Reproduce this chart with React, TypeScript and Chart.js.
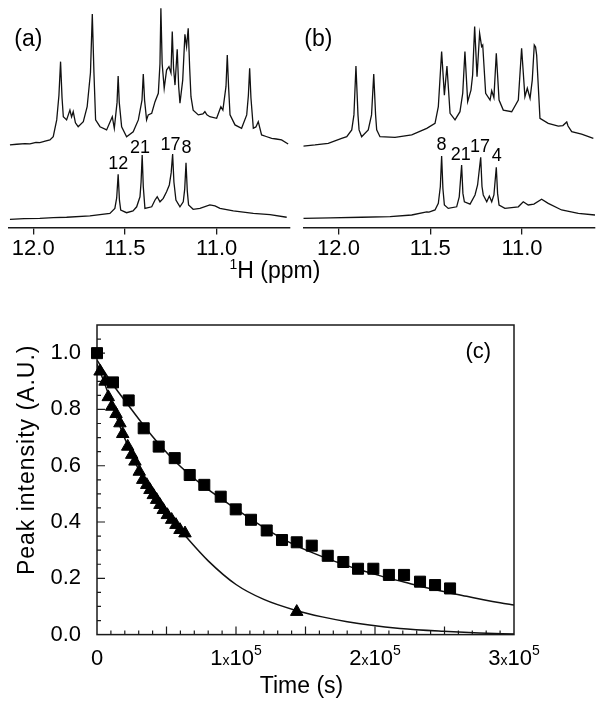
import React, { useEffect, useRef } from 'react';
import { Chart, registerables } from 'chart.js';

Chart.register(...registerables);

const FONT = '"Liberation Sans", Arial, Helvetica, sans-serif';
const INK = '#111';

// ---------------- Panels (a) and (b): 1H NMR spectra ----------------
// [chemical shift (ppm), intensity (a.u., 0-100 frame scale)]
const ppmTicks = [12.0, 11.5, 11.0];

const spectrumAUpper: [number, number][] = [
  [12.127, 36.3], [12.09, 36.6], [12.045, 36.9], [12.018, 36.8], [11.985, 37.4], [11.964, 37.3],
  [11.935, 38.0], [11.909, 38.5], [11.891, 39.9], [11.872, 47.3], [11.86, 58], [11.851, 72.9],
  [11.843, 57], [11.836, 48.7], [11.818, 47.3], [11.8, 51.6], [11.791, 48.6], [11.782, 50.9],
  [11.77, 46], [11.755, 44.3], [11.727, 46.5], [11.706, 53.1], [11.688, 68], [11.678, 93.8],
  [11.669, 68], [11.66, 47.3], [11.636, 44.3], [11.6, 42.9], [11.569, 48.7], [11.558, 43.6],
  [11.543, 55], [11.537, 66.6], [11.531, 55], [11.518, 44.3], [11.491, 39.9], [11.455, 42.1],
  [11.427, 47.3], [11.407, 56], [11.4, 67.5], [11.393, 56], [11.382, 47.3], [11.373, 49.5],
  [11.354, 50.2], [11.336, 55.3], [11.318, 59.0], [11.309, 72], [11.304, 96.4], [11.297, 72],
  [11.286, 61.2], [11.273, 69.2], [11.26, 70.7], [11.249, 67.9], [11.242, 86.1], [11.235, 70],
  [11.227, 62.6], [11.215, 78.3], [11.207, 62], [11.2, 54.6], [11.185, 64.8], [11.173, 84.9],
  [11.164, 79.5], [11.155, 87.6], [11.147, 70], [11.14, 57.5], [11.128, 51.6], [11.1, 49.5],
  [11.075, 49.9], [11.064, 50.9], [11.053, 49.5], [11.037, 48.7], [11.0, 48.0], [10.977, 53.1],
  [10.966, 51.6], [10.949, 62], [10.942, 75.8], [10.935, 62], [10.927, 49.5], [10.9, 45.1],
  [10.864, 43.6], [10.836, 49.5], [10.827, 58], [10.82, 70.0], [10.813, 57], [10.8, 43.6],
  [10.786, 44.2], [10.773, 46.5], [10.755, 40.7], [10.73, 40], [10.7, 39.2], [10.675, 38.9],
  [10.646, 38.5], [10.61, 36.7],
];

const spectrumALower: [number, number][] = [
  [12.127, 3.6], [12.05, 3.9], [11.964, 4.0], [11.89, 4.3], [11.818, 4.5], [11.691, 5.1],
  [11.582, 6.2], [11.555, 8.4], [11.545, 13], [11.537, 23.4], [11.53, 12], [11.523, 7.7],
  [11.491, 6.5], [11.456, 7.3], [11.436, 9.1], [11.418, 13.5], [11.412, 20], [11.406, 31.9],
  [11.4, 18], [11.391, 8.4], [11.354, 9.1], [11.336, 12.1], [11.324, 13.5], [11.309, 11.3],
  [11.291, 12.8], [11.273, 15.7], [11.258, 18.7], [11.248, 24], [11.24, 32.3], [11.233, 20],
  [11.222, 12.1], [11.2, 9.1], [11.182, 11.3], [11.174, 17], [11.167, 28.5], [11.16, 16],
  [11.153, 9.9], [11.128, 8.0], [11.091, 8.4], [11.037, 9.9], [11.009, 9.5], [10.982, 8.4],
  [10.909, 7.3], [10.8, 6.2], [10.709, 5.7], [10.618, 4.5],
];

const spectrumBUpper: [number, number][] = [
  [12.192, 35.8], [12.128, 36.3], [12.056, 37.0], [11.983, 39.2], [11.955, 39.9], [11.928, 42.9],
  [11.916, 49.5], [11.905, 71.0], [11.894, 49.5], [11.888, 42.9], [11.874, 39.9], [11.838, 42.9],
  [11.82, 49.5], [11.808, 67.5], [11.798, 49.5], [11.792, 42.9], [11.774, 39.9], [11.692, 39.6],
  [11.601, 40.7], [11.519, 43.6], [11.474, 45.8], [11.456, 53.1], [11.438, 77.3], [11.423, 58.2],
  [11.409, 71.0], [11.392, 50.2], [11.365, 47.3], [11.338, 50.9], [11.323, 59.0], [11.311, 77.3],
  [11.296, 55.3], [11.278, 60.4], [11.269, 67.0], [11.258, 88.3], [11.245, 66.3], [11.231, 85.4],
  [11.22, 79.5], [11.214, 80.2], [11.198, 59.0], [11.174, 56.0], [11.165, 60.1], [11.153, 57.1],
  [11.14, 76.6], [11.125, 56.0], [11.102, 51.6], [11.056, 50.9], [11.02, 56.0], [11.002, 78.8],
  [10.984, 57.5], [10.971, 61.2], [10.956, 56.8], [10.944, 64.8], [10.933, 80.2], [10.926, 79.3],
  [10.92, 75.8], [10.902, 48.0], [10.857, 45.8], [10.802, 44.6], [10.777, 44.8], [10.756, 46.4],
  [10.749, 44.6], [10.729, 42.1], [10.675, 41.0], [10.611, 39.2],
];

const spectrumBLower: [number, number][] = [
  [12.192, 4.0], [12.046, 4.2], [11.874, 4.5], [11.719, 4.8], [11.601, 5.5], [11.519, 6.9],
  [11.507, 6.8], [11.474, 7.7], [11.456, 10.6], [11.445, 18], [11.438, 31.4], [11.431, 17],
  [11.423, 9.9], [11.402, 8.4], [11.356, 9.1], [11.342, 13.5], [11.329, 27.5], [11.322, 15],
  [11.314, 11.3], [11.283, 10.3], [11.256, 14.3], [11.242, 18.7], [11.225, 30.9], [11.218, 18],
  [11.211, 14.3], [11.192, 11.3], [11.178, 13.8], [11.165, 11.3], [11.153, 14.3], [11.14, 26.5],
  [11.133, 15], [11.125, 9.9], [11.093, 8.4], [11.02, 9.1], [10.993, 11.3], [10.966, 9.9],
  [10.935, 10.3], [10.893, 12.4], [10.857, 10.6], [10.784, 7.7], [10.693, 6.2], [10.602, 5.5],
];

const peakLabelsA = ['12', '21', '17', '8'];
const peakLabelPpmA = [11.537, 11.418, 11.251, 11.164];
const peakLabelIntA = [27.8, 34.8, 36.3, 34.8];

const peakLabelsB = ['8', '21', '17', '4'];
const peakLabelPpmB = [11.438, 11.334, 11.229, 11.138];
const peakLabelIntB = [36.3, 31.9, 35.5, 31.4];

// ---------------- Panel (c): peak intensity decay ----------------
const timeSquares = [0, 11500, 22800, 33600, 44400, 55900, 66700, 77200, 89000, 99800, 110800, 122100,
  133100, 143700, 154500, 166000, 177200, 187800, 198800, 210000, 220900, 232400, 243200, 254000];
const intensitySquares = [1.0, 0.896, 0.832, 0.733, 0.668, 0.627, 0.567, 0.532, 0.49, 0.445, 0.408, 0.37,
  0.336, 0.328, 0.316, 0.28, 0.258, 0.234, 0.234, 0.212, 0.212, 0.188, 0.176, 0.164];

const timeTriangles = [2200, 5800, 8100, 10600, 13700, 16500, 18500, 22100, 25000, 27300, 30400, 32900,
  35800, 38100, 40500, 42900, 45300, 47700, 50600, 53700, 56800, 59700, 63300, 143700];
const intensityTriangles = [0.935, 0.899, 0.844, 0.81, 0.784, 0.751, 0.713, 0.668, 0.639, 0.615, 0.579, 0.55,
  0.532, 0.514, 0.496, 0.479, 0.461, 0.443, 0.425, 0.408, 0.39, 0.372, 0.36, 0.081];

const fitSquaresTime = [0, 11700, 23000, 33300, 44100, 56300, 66900, 77200, 89000, 99800, 110800, 122100,
  133100, 143700, 154000, 165700, 177200, 187800, 198800, 210000, 220900, 232400, 243200, 254000, 266000,
  278000, 290000, 300000];
const fitSquaresIntensity = [0.975, 0.887, 0.812, 0.745, 0.68, 0.615, 0.567, 0.526, 0.484, 0.447, 0.41, 0.374,
  0.342, 0.315, 0.293, 0.27, 0.25, 0.232, 0.216, 0.2, 0.187, 0.172, 0.16, 0.148, 0.136, 0.124, 0.113, 0.105];

const fitTrianglesTime = [0, 6000, 12000, 18500, 25000, 33000, 40500, 50600, 63300, 80000, 100000, 120000,
  143700, 162000, 180000, 196000, 218000, 249000, 275000, 300000];
const fitTrianglesIntensity = [0.962, 0.885, 0.8, 0.715, 0.64, 0.555, 0.496, 0.425, 0.352, 0.262, 0.178, 0.125,
  0.085, 0.063, 0.046, 0.034, 0.022, 0.012, 0.006, 0.002];

const timeTicks = [0, 100000, 200000, 300000];
const timeTickMantissa = ['0', '1', '2', '3'];
const timeTickExponent = [0, 5, 5, 5];
const intensityTicks = [0, 0.2, 0.4, 0.6, 0.8, 1.0];
const TIME_MINOR_STEP = 10000;
const INTENSITY_MINOR_STEP = 0.05;

// ---------------- Spectrum panel ----------------
type SpecProps = {
  upper: [number, number][];
  lower: [number, number][];
  peakLabels: string[];
  peakPpm: number[];
  peakInt: number[];
  panelLabel: string;
  panelPpm: number;
  panelInt: number;
  ppmMin: number;
  ppmMax: number;
  left: number;
  width: number;
  padLeft: number;
  padRight: number;
};

const SPEC_H = 262;
const SPEC_AREA_BOTTOM = 227.5;

function SpectrumPanel(p: SpecProps) {
  const ref = useRef<HTMLCanvasElement>(null);
  useEffect(() => {
    const labelPlugin = {
      id: 'spectrumLabels',
      afterDatasetsDraw(chart: any) {
        const { ctx } = chart;
        const x = chart.scales.x;
        const y = chart.scales.y;
        ctx.save();
        ctx.fillStyle = '#000';
        ctx.textAlign = 'center';
        ctx.textBaseline = 'middle';
        ctx.font = `18px ${FONT}`;
        p.peakLabels.forEach((t, i) => {
          ctx.fillText(t, x.getPixelForValue(p.peakPpm[i]), y.getPixelForValue(p.peakInt[i]));
        });
        ctx.font = `23px ${FONT}`;
        ctx.fillText(p.panelLabel, x.getPixelForValue(p.panelPpm), y.getPixelForValue(p.panelInt));
        ctx.restore();
      },
    };
    const toXY = (arr: [number, number][]) => arr.map(([x, y]) => ({ x, y }));
    const chart = new Chart(ref.current as HTMLCanvasElement, {
      type: 'line',
      data: {
        datasets: [
          { data: toXY(p.upper), borderColor: INK, borderWidth: 1.3, pointRadius: 0, tension: 0, fill: false },
          { data: toXY(p.lower), borderColor: INK, borderWidth: 1.3, pointRadius: 0, tension: 0, fill: false },
        ],
      },
      options: {
        animation: false,
        responsive: false,
        events: [],
        layout: { padding: { left: p.padLeft, right: p.padRight, top: 0, bottom: 0 } },
        plugins: { legend: { display: false }, tooltip: { enabled: false } },
        scales: {
          x: {
            type: 'linear',
            reverse: true,
            min: p.ppmMin,
            max: p.ppmMax,
            afterBuildTicks: (s: any) => {
              s.ticks = ppmTicks.map((v) => ({ value: v }));
            },
            afterFit: (s: any) => {
              s.height = SPEC_H - SPEC_AREA_BOTTOM;
              s.paddingLeft = 0;
              s.paddingRight = 0;
            },
            grid: { display: true, drawOnChartArea: false, drawTicks: true, tickLength: 7, color: '#1a1a1a', lineWidth: 1.3 },
            border: { display: true, color: '#1a1a1a', width: 1.4 },
            ticks: {
              padding: 1,
              color: '#000',
              font: { size: 22, family: FONT },
              maxRotation: 0,
              autoSkip: false,
              callback: (v: any) => Number(v).toFixed(1),
            },
          },
          y: { display: false, min: 0, max: 100 },
        },
      } as any,
      plugins: [labelPlugin],
    });
    return () => chart.destroy();
  }, []);
  return (
    <canvas
      ref={ref}
      width={p.width}
      height={SPEC_H}
      style={{ position: 'absolute', left: p.left, top: 0, width: p.width, height: SPEC_H }}
    />
  );
}

// ---------------- Decay panel ----------------
const DECAY_TOP = 300;
const DECAY_H = 408;

function DecayPanel() {
  const ref = useRef<HTMLCanvasElement>(null);
  useEffect(() => {
    const decor = {
      id: 'decayDecor',
      beforeDatasetsDraw(chart: any) {
        const { ctx, chartArea: a } = chart;
        const x = chart.scales.x;
        const y = chart.scales.y;
        ctx.save();
        ctx.strokeStyle = '#1a1a1a';
        ctx.lineWidth = 1.5;
        ctx.strokeRect(a.left, a.top, a.right - a.left, a.bottom - a.top);
        ctx.lineWidth = 1.2;
        ctx.beginPath();
        const nx = Math.round(300000 / TIME_MINOR_STEP);
        for (let k = 1; k < nx; k++) {
          const px = x.getPixelForValue(k * TIME_MINOR_STEP);
          const len = k % 5 === 0 ? 8 : 4;
          ctx.moveTo(px, a.bottom);
          ctx.lineTo(px, a.bottom - len);
        }
        const ny = Math.round(1.1 / INTENSITY_MINOR_STEP);
        for (let k = 1; k < ny; k++) {
          const py = y.getPixelForValue(k * INTENSITY_MINOR_STEP);
          const len = k % 4 === 0 ? 8 : 4;
          ctx.moveTo(a.left, py);
          ctx.lineTo(a.left + len, py);
        }
        ctx.stroke();
        ctx.restore();
      },
      afterDraw(chart: any) {
        const { ctx, chartArea: a } = chart;
        const x = chart.scales.x;
        const y = chart.scales.y;
        ctx.save();
        ctx.fillStyle = '#000';
        ctx.textBaseline = 'alphabetic';
        ctx.textAlign = 'left';
        const big = `22px ${FONT}`;
        const small = `14px ${FONT}`;
        const base = a.bottom + 30;
        timeTicks.forEach((v, i) => {
          const px = x.getPixelForValue(v);
          const m = timeTickMantissa[i];
          const e = timeTickExponent[i];
          if (!e) {
            ctx.font = big;
            const w = ctx.measureText(m).width;
            ctx.fillText(m, px - w / 2, base);
            return;
          }
          const parts: [string, string, number][] = [
            [m, big, 0],
            ['x', small, 0],
            ['10', big, 0],
            [String(e), small, -10],
          ];
          let total = 0;
          const widths = parts.map(([t, f]) => {
            ctx.font = f;
            const w = ctx.measureText(t).width;
            total += w;
            return w;
          });
          let cx = px - total / 2;
          parts.forEach(([t, f, dy], j) => {
            ctx.font = f;
            ctx.fillText(t, cx, base + dy);
            cx += widths[j];
          });
        });
        // axis titles
        ctx.textAlign = 'center';
        ctx.textBaseline = 'middle';
        ctx.font = `23px ${FONT}`;
        ctx.fillText('Time (s)', (a.left + a.right) / 2 - 4, a.bottom + 52);
        ctx.save();
        ctx.translate(a.left - 69, (a.top + a.bottom) / 2 - 20);
        ctx.rotate(-Math.PI / 2);
        (ctx as any).letterSpacing = '1px';
        ctx.fillText('Peak intensity (A.U.)', 0, 0);
        ctx.restore();
        ctx.font = `22px ${FONT}`;
        ctx.fillText('(c)', x.getPixelForValue(274300), y.getPixelForValue(1.006));
        ctx.restore();
      },
    };
    const pts = (xs: number[], ys: number[]) => xs.map((t, i) => ({ x: t, y: ys[i] }));
    const chart = new Chart(ref.current as HTMLCanvasElement, {
      type: 'scatter',
      data: {
        datasets: [
          {
            data: pts(timeSquares, intensitySquares),
            pointStyle: 'rect',
            pointRadius: 7.8,
            backgroundColor: '#000',
            borderColor: '#000',
            borderWidth: 1,
            clip: false,
          },
          {
            data: pts(timeTriangles, intensityTriangles),
            pointStyle: 'triangle',
            pointRadius: 7.2,
            backgroundColor: '#000',
            borderColor: '#000',
            borderWidth: 1,
            clip: false,
          },
          {
            data: pts(fitSquaresTime, fitSquaresIntensity),
            showLine: true,
            pointRadius: 0,
            borderColor: INK,
            borderWidth: 1.5,
            cubicInterpolationMode: 'monotone',
          },
          {
            data: pts(fitTrianglesTime, fitTrianglesIntensity),
            showLine: true,
            pointRadius: 0,
            borderColor: INK,
            borderWidth: 1.5,
            cubicInterpolationMode: 'monotone',
          },
        ],
      },
      options: {
        animation: false,
        responsive: false,
        events: [],
        layout: { padding: { left: 0, right: 91, top: 25, bottom: 0 } },
        plugins: { legend: { display: false }, tooltip: { enabled: false } },
        scales: {
          x: {
            type: 'linear',
            min: 0,
            max: 300000,
            afterBuildTicks: (s: any) => {
              s.ticks = timeTicks.map((v) => ({ value: v }));
            },
            afterFit: (s: any) => {
              s.height = DECAY_H - 334.6;
              s.paddingLeft = 0;
              s.paddingRight = 0;
            },
            grid: { display: false, drawTicks: false },
            border: { display: false },
            ticks: { display: false },
          },
          y: {
            type: 'linear',
            min: 0,
            max: 1.1,
            afterBuildTicks: (s: any) => {
              s.ticks = intensityTicks.map((v) => ({ value: v }));
            },
            afterFit: (s: any) => {
              s.width = 97;
              s.paddingTop = 0;
              s.paddingBottom = 0;
            },
            grid: { display: false, drawTicks: false },
            border: { display: false },
            ticks: {
              padding: 16,
              color: '#000',
              font: { size: 22, family: FONT },
              autoSkip: false,
              callback: (v: any) => Number(v).toFixed(1),
            },
          },
        },
      } as any,
      plugins: [decor],
    });
    return () => chart.destroy();
  }, []);
  return (
    <canvas
      ref={ref}
      width={605}
      height={DECAY_H}
      style={{ position: 'absolute', left: 0, top: DECAY_TOP, width: 605, height: DECAY_H }}
    />
  );
}

export default function App() {
  return (
    <div style={{ position: 'absolute', left: 0, top: 0, width: 605, height: 708, background: '#fff', overflow: 'hidden' }}>
      <SpectrumPanel
        upper={spectrumAUpper}
        lower={spectrumALower}
        peakLabels={peakLabelsA}
        peakPpm={peakLabelPpmA}
        peakInt={peakLabelIntA}
        panelLabel="(a)"
        panelPpm={12.027}
        panelInt={82.4}
        ppmMin={10.6}
        ppmMax={12.136}
        left={0}
        width={300}
        padLeft={8.3}
        padRight={10}
      />
      <SpectrumPanel
        upper={spectrumBUpper}
        lower={spectrumBLower}
        peakLabels={peakLabelsB}
        peakPpm={peakLabelPpmB}
        peakInt={peakLabelIntB}
        panelLabel="(b)"
        panelPpm={12.11}
        panelInt={82.4}
        ppmMin={10.602}
        ppmMax={12.192}
        left={300}
        width={305}
        padLeft={3.3}
        padRight={10}
      />
      <div
        style={{
          position: 'absolute',
          left: 0,
          width: 550,
          top: 257,
          textAlign: 'center',
          font: `23px ${FONT}`,
          lineHeight: '26px',
          color: '#000',
        }}
      >
        <span style={{ fontSize: 14, position: 'relative', top: -9 }}>1</span>H (ppm)
      </div>
      <DecayPanel />
    </div>
  );
}
